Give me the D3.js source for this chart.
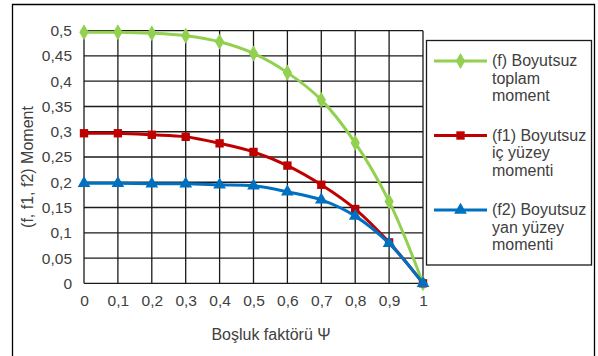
<!DOCTYPE html>
<html>
<head>
<meta charset="utf-8">
<script src="https://cdn.jsdelivr.net/npm/d3@7"></script>
<style>
  html, body { margin: 0; padding: 0; background: #fff; }
  svg { display: block; font-family: "Liberation Sans", Arial, sans-serif; }
</style>
</head>
<body>
<svg id="chart" width="598" height="356"></svg>
<script>
// Boşluk faktörü Ψ
const psi = [0, 0.1, 0.2, 0.3, 0.4, 0.5, 0.6, 0.7, 0.8, 0.9, 1];
// (f) Boyutsuz toplam moment
const fTotal = [0.497, 0.497, 0.495, 0.490, 0.478, 0.455, 0.417, 0.363, 0.278, 0.162, 0];
// (f1) Boyutsuz iç yüzey momenti
const fInner = [0.297, 0.297, 0.294, 0.290, 0.277, 0.260, 0.233, 0.195, 0.147, 0.081, 0];
// (f2) Boyutsuz yan yüzey momenti
const fSide = [0.198, 0.198, 0.197, 0.197, 0.195, 0.193, 0.181, 0.165, 0.133, 0.079, 0];

const xTicks = [0, 0.1, 0.2, 0.3, 0.4, 0.5, 0.6, 0.7, 0.8, 0.9, 1];
const yTicks = [0, 0.05, 0.1, 0.15, 0.2, 0.25, 0.3, 0.35, 0.4, 0.45, 0.5];

const seriesNames = [
  ["(f) Boyutsuz", "toplam", "moment"],
  ["(f1) Boyutsuz", "iç yüzey", "momenti"],
  ["(f2) Boyutsuz", "yan yüzey", "momenti"]
];
const seriesColors = ["#92D050", "#C00000", "#0070C0"];
const seriesShapes = [d3.symbolDiamond, d3.symbolSquare, d3.symbolTriangle];
const seriesValues = [fTotal, fInner, fSide];

const svg = d3.select("#chart");
const W = 598, H = 356;
const plot = { left: 84, right: 423, top: 30.7, bottom: 283.3 };

const fmt = v => String(+v.toFixed(2)).replace(".", ",");

// outer chart frame (open at the bottom edge of the page)
svg.append("path")
  .attr("d", `M12.5,${H + 2} V4.5 H594.5 V${H + 2}`)
  .attr("fill", "none").attr("stroke", "#000").attr("stroke-width", 1.3);

const x = d3.scaleLinear().domain([0, 1]).range([plot.left, plot.right]);
const y = d3.scaleLinear().domain([0, 0.5]).range([plot.bottom, plot.top]);

// gridlines
const grid = svg.append("g").attr("stroke", "#1a1a1a").attr("stroke-width", 1.3);
grid.selectAll("line.v").data(xTicks).join("line")
  .attr("x1", d => x(d)).attr("x2", d => x(d))
  .attr("y1", plot.top).attr("y2", plot.bottom);
grid.selectAll("line.h").data(yTicks).join("line")
  .attr("y1", d => y(d)).attr("y2", d => y(d))
  .attr("x1", plot.left).attr("x2", plot.right);

// axes (labels only; gridlines double as axis lines)
const xAxis = svg.append("g")
  .attr("transform", `translate(0,${plot.bottom})`)
  .call(d3.axisBottom(x).tickValues(xTicks).tickFormat(fmt).tickSize(0).tickPadding(12));
const yAxis = svg.append("g")
  .attr("transform", `translate(${plot.left},0)`)
  .call(d3.axisLeft(y).tickValues(yTicks).tickFormat(fmt).tickSize(0).tickPadding(12));
[xAxis, yAxis].forEach(a => {
  a.select(".domain").remove();
  a.selectAll("text")
    .attr("fill", "#404040")
    .style("font-size", "15.5px")
    .style("font-family", "'Liberation Sans', Arial, sans-serif");
});

// series lines and markers
const line = d3.line()
  .x((d, i) => x(psi[i]))
  .y(d => y(d))
  .curve(d3.curveCatmullRom.alpha(0.5));

seriesValues.forEach((vals, s) => {
  const g = svg.append("g");
  g.append("path").datum(vals)
    .attr("d", line)
    .attr("fill", "none")
    .attr("stroke", seriesColors[s])
    .attr("stroke-width", 3)
    .attr("stroke-linejoin", "round");
  g.selectAll("path.m").data(vals).join("path")
    .attr("class", "m")
    .attr("transform", (d, i) => `translate(${x(psi[i])},${y(d)})`)
    .attr("d", d3.symbol().type(seriesShapes[s]).size(s === 0 ? 75 : 70))
    .attr("fill", seriesColors[s]);
});

// axis titles
svg.append("text")
  .attr("x", 271).attr("y", 340)
  .attr("text-anchor", "middle")
  .attr("fill", "#404040").style("font-size", "16px")
  .text("Boşluk faktörü Ψ");
svg.append("text")
  .attr("transform", `translate(33,167) rotate(-90)`)
  .attr("text-anchor", "middle")
  .attr("fill", "#404040").style("font-size", "16px")
  .text("(f, f1, f2) Moment");

// legend
const legend = svg.append("g");
legend.append("rect")
  .attr("x", 426.5).attr("y", 40.5).attr("width", 165).attr("height", 224.5)
  .attr("fill", "#fff").attr("stroke", "#1a1a1a").attr("stroke-width", 1.3);
const legendY = [61, 135.5, 210];
seriesNames.forEach((lines, s) => {
  const gy = legendY[s];
  legend.append("line")
    .attr("x1", 434).attr("x2", 487).attr("y1", gy).attr("y2", gy)
    .attr("stroke", seriesColors[s]).attr("stroke-width", 3);
  legend.append("path")
    .attr("transform", `translate(460.5,${gy})`)
    .attr("d", d3.symbol().type(seriesShapes[s]).size(s === 0 ? 75 : 70))
    .attr("fill", seriesColors[s]);
  const t = legend.append("text")
    .attr("x", 492).attr("y", gy + 5)
    .attr("fill", "#404040").style("font-size", "16px");
  lines.forEach((ln, k) => {
    t.append("tspan").attr("x", 492).attr("dy", k === 0 ? 0 : 17.5).text(ln);
  });
});
</script>
</body>
</html>
